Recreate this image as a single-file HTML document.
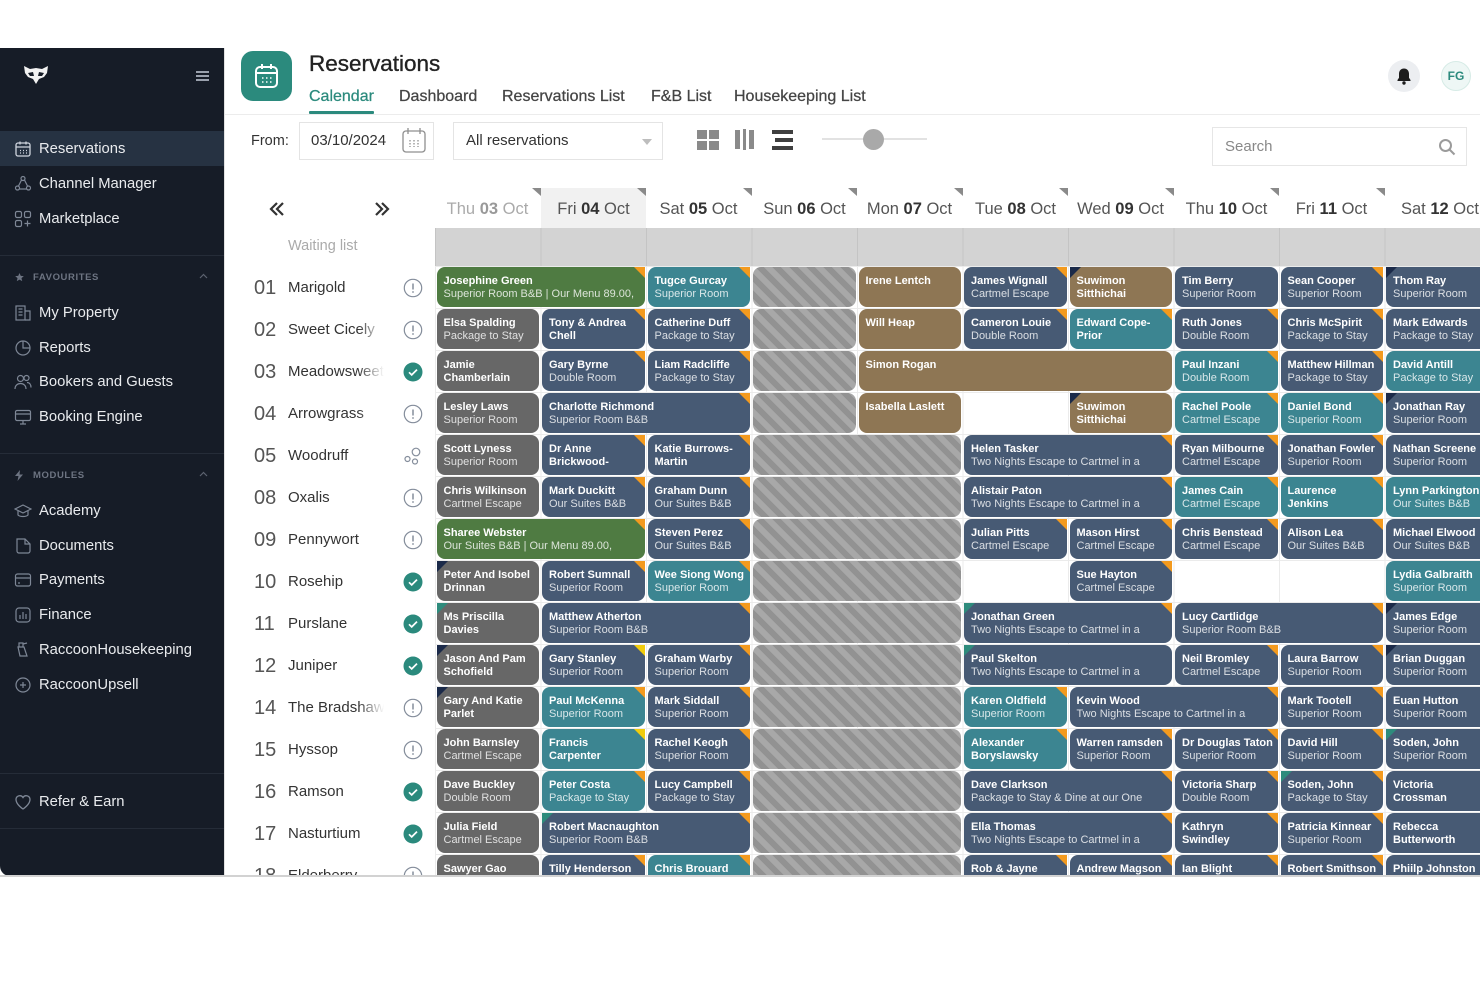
<!DOCTYPE html>
<html><head><meta charset="utf-8">
<style>
*{box-sizing:border-box}
body{margin:0;width:1480px;height:987px;position:relative;overflow:hidden;background:#fff;font-family:"Liberation Sans",sans-serif;}
.a{position:absolute}
#side{position:absolute;left:0;top:48px;width:224px;height:828px;background:#161c27;border-bottom-left-radius:10px;overflow:hidden}
.si{position:absolute;left:39px;font-size:14.8px;color:#e9ebee;line-height:20px;white-space:nowrap}
.ic{position:absolute;left:14px;width:18px;height:18px}
.sep{position:absolute;left:0;width:224px;height:1px;background:#252c38}
.lab{position:absolute;left:33px;font-size:9.5px;font-weight:bold;color:#6d7482;letter-spacing:.6px;line-height:12px}
.tab{position:absolute;top:87px;font-size:16px;line-height:20px;color:#444;-webkit-text-stroke:.25px #444;white-space:nowrap}
.dh{position:absolute;top:199px;font-size:16.5px;line-height:20px;color:#555;white-space:nowrap;text-align:center;width:105px}
.dh b{color:#333}
.tri{position:absolute;top:188px;width:0;height:0;border-style:solid;border-width:0 9px 8px 0;border-color:transparent #8a8a8a transparent transparent}
#grid{position:absolute;left:435px;top:266px;width:1055px;height:609px;overflow:hidden;display:grid;grid-template-columns:repeat(10,105.5px);grid-template-rows:repeat(15,42px);
background:repeating-linear-gradient(to bottom,#ebebeb 0 1px,transparent 1px 42px),repeating-linear-gradient(to right,#ebebeb 0 1px,transparent 1px 105.5px)}
.b{position:relative;margin:1px 1.5px;border-radius:8px;padding:7.5px 4px 0 7px;color:#fff;font-size:11px;line-height:13.5px;white-space:nowrap}
.b b{display:block;font-weight:bold}
.b i{display:block;font-style:normal;color:rgba(255,255,255,.8)}
.g{background:#4f7b42}.t{background:#3c8591}.n{background:#475a74}.y{background:#676767}.r{background:#8e7654}
.s{background:repeating-linear-gradient(45deg,#a8a8a8 0 6px,#929292 6px 12px)}
.o::after,.yy::after{content:"";position:absolute;top:0;right:0;width:0;height:0;border-style:solid;border-width:0 11px 11px 0;border-color:transparent #f39a1e transparent transparent}
.yy::after{border-color:transparent #f1cc0c transparent transparent}
.ln::before,.lt::before{content:"";position:absolute;top:0;left:0;width:0;height:0;border-style:solid;border-width:11px 11px 0 0;border-color:#1b2a49 transparent transparent transparent}
.lt::before{border-color:#2e8b7c transparent transparent transparent}
#rooms{position:absolute;left:225px;top:228px;width:210px;height:647px;overflow:hidden}
.rn{position:absolute;left:29px;font-size:20px;color:#555;line-height:24px}
.rm{position:absolute;left:63px;font-size:15px;color:#333;line-height:20px;width:96px;overflow:hidden;white-space:nowrap;-webkit-mask-image:linear-gradient(to right,#000 70px,transparent 96px);mask-image:linear-gradient(to right,#000 70px,transparent 96px)}
.st{position:absolute;left:178px;width:20px;height:20px}
</style></head><body>

<!-- SIDEBAR -->
<div id="side">
  <svg class="a" style="left:23px;top:17px" width="26" height="20" viewBox="0 0 26 20">
    <path d="M1 1 L7 4 L13 3 L19 4 L25 1 L24 8 L21 12 L16 14 L13 19 L10 14 L5 12 L2 8 Z" fill="#f2f2f2"/>
    <path d="M5 8 L10 7 L11 11 L7 11 Z M21 8 L16 7 L15 11 L19 11 Z" fill="#161c27"/>
  </svg>
  <svg class="a" style="left:196px;top:23px" width="14" height="10"><rect y="0" width="13" height="2" fill="#9aa1ad"/><rect y="4" width="13" height="2" fill="#9aa1ad"/><rect y="8" width="13" height="2" fill="#9aa1ad"/></svg>

  <div class="a" style="left:0;top:83px;width:224px;height:35px;background:#263242"></div>
  <svg class="ic" style="top:92px" viewBox="0 0 18 18" fill="none" stroke="#cfd5de" stroke-width="1.3"><rect x="2" y="3" width="14" height="13" rx="2"/><path d="M2 7h14M6 1.5v3M12 1.5v3"/><path d="M6 10.5h1M9 10.5h1M12 10.5h1M6 13h1M9 13h1M12 13h1"/></svg>
  <div class="si" style="top:91px">Reservations</div>
  <svg class="ic" style="top:127px" viewBox="0 0 18 18" fill="none" stroke="#7e8796" stroke-width="1.2"><circle cx="9" cy="3.5" r="2"/><circle cx="3.5" cy="13" r="2"/><circle cx="14.5" cy="13" r="2"/><path d="M7.5 5L4.5 11M10.5 5l3 6M5.5 14h7"/></svg>
  <div class="si" style="top:126px">Channel Manager</div>
  <svg class="ic" style="top:162px" viewBox="0 0 18 18" fill="none" stroke="#7e8796" stroke-width="1.2"><rect x="1.5" y="1.5" width="6" height="6" rx="1.5"/><rect x="10.5" y="1.5" width="6" height="6" rx="1.5"/><rect x="1.5" y="10.5" width="6" height="6" rx="1.5"/><path d="M13.5 10.5v6M10.5 13.5h6"/></svg>
  <div class="si" style="top:161px">Marketplace</div>
  <div class="sep" style="top:207px"></div>

  <svg class="a" style="left:15px;top:225px" width="9" height="9" viewBox="0 0 10 10"><path d="M5 0l1.4 3.2 3.4.3-2.6 2.2.8 3.3L5 7.3 2 9l.8-3.3L.2 3.5l3.4-.3z" fill="#6d7482"/></svg>
  <div class="lab" style="top:224px">FAVOURITES</div>
  <svg class="a" style="left:199px;top:225px" width="9" height="6"><path d="M1 5l3.5-3.5L8 5" stroke="#5c6370" fill="none" stroke-width="1.2"/></svg>

  <svg class="ic" style="top:256px" viewBox="0 0 18 18" fill="none" stroke="#7e8796" stroke-width="1.2"><rect x="2" y="2" width="9" height="14"/><path d="M11 7h5v9h-5M4.5 5h4M4.5 8h4M4.5 11h4"/></svg>
  <div class="si" style="top:255px">My Property</div>
  <svg class="ic" style="top:291px" viewBox="0 0 18 18" fill="none" stroke="#7e8796" stroke-width="1.2"><circle cx="9" cy="9" r="7"/><path d="M9 2v7h7"/></svg>
  <div class="si" style="top:290px">Reports</div>
  <svg class="ic" style="top:325px" viewBox="0 0 18 18" fill="none" stroke="#7e8796" stroke-width="1.2"><circle cx="6.5" cy="5.5" r="3"/><path d="M1 16c0-3.5 2.5-5.5 5.5-5.5S12 12.5 12 16"/><circle cx="12.5" cy="5" r="2.5"/><path d="M13 9.5c2.5 0 4 2 4 5"/></svg>
  <div class="si" style="top:324px">Bookers and Guests</div>
  <svg class="ic" style="top:360px" viewBox="0 0 18 18" fill="none" stroke="#7e8796" stroke-width="1.2"><rect x="1.5" y="2.5" width="15" height="10" rx="1.5"/><path d="M1.5 6h15M6 16h6M9 12.5V16"/></svg>
  <div class="si" style="top:359px">Booking Engine</div>
  <div class="sep" style="top:405px"></div>

  <svg class="a" style="left:15px;top:422px" width="8" height="11" viewBox="0 0 8 11"><path d="M5 0L0 6h3.5L2.5 11 8 4.5H4.5z" fill="#6d7482"/></svg>
  <div class="lab" style="top:422px">MODULES</div>
  <svg class="a" style="left:199px;top:423px" width="9" height="6"><path d="M1 5l3.5-3.5L8 5" stroke="#5c6370" fill="none" stroke-width="1.2"/></svg>

  <svg class="ic" style="top:454px" viewBox="0 0 18 18" fill="none" stroke="#7e8796" stroke-width="1.2"><path d="M1 7l8-4 8 4-8 4z"/><path d="M4 9v4c2 2 8 2 10 0V9"/></svg>
  <div class="si" style="top:453px">Academy</div>
  <svg class="ic" style="top:489px" viewBox="0 0 18 18" fill="none" stroke="#7e8796" stroke-width="1.2"><path d="M3 2h8l5 5v7a2 2 0 0 1-2 2H5a2 2 0 0 1-2-2z"/><path d="M11 2v5h5"/></svg>
  <div class="si" style="top:488px">Documents</div>
  <svg class="ic" style="top:523px" viewBox="0 0 18 18" fill="none" stroke="#7e8796" stroke-width="1.2"><rect x="1.5" y="3" width="15" height="12" rx="2"/><path d="M1.5 7h15M4 12h2"/></svg>
  <div class="si" style="top:522px">Payments</div>
  <svg class="ic" style="top:558px" viewBox="0 0 18 18" fill="none" stroke="#7e8796" stroke-width="1.2"><rect x="2" y="2" width="14" height="14" rx="3"/><path d="M6 13V9M9 13V6M12 13V8"/></svg>
  <div class="si" style="top:557px">Finance</div>
  <svg class="ic" style="top:593px" viewBox="0 0 18 18" fill="none" stroke="#7e8796" stroke-width="1.2"><path d="M5 2h4v4H5zM4 6h6l3 9H6z"/><path d="M9 3l4-1"/></svg>
  <div class="si" style="top:592px">RaccoonHousekeeping</div>
  <svg class="ic" style="top:628px" viewBox="0 0 18 18" fill="none" stroke="#7e8796" stroke-width="1.2"><circle cx="9" cy="9" r="7"/><path d="M9 6v6M6 9h6"/></svg>
  <div class="si" style="top:627px">RaccoonUpsell</div>
  <div class="sep" style="top:725px"></div>
  <svg class="ic" style="top:745px" viewBox="0 0 18 18" fill="none" stroke="#7e8796" stroke-width="1.3"><path d="M9 16S2 11.5 2 6.5A3.8 3.8 0 0 1 9 4.5a3.8 3.8 0 0 1 7 2C16 11.5 9 16 9 16z"/></svg>
  <div class="si" style="top:744px">Refer &amp; Earn</div>
  <div class="sep" style="top:780px"></div>
</div>
<div class="a" style="left:224px;top:48px;width:1px;height:828px;background:#e2e2e2"></div>
<div class="a" style="left:0;top:875px;width:1480px;height:2px;background:#d2d2d2"></div>

<!-- HEADER -->
<div class="a" style="left:241px;top:51px;width:51px;height:50px;border-radius:12px;background:#2b8a7d"></div>
<svg class="a" style="left:253px;top:62px" width="27" height="28" viewBox="0 0 27 28" fill="none" stroke="#fff" stroke-width="2"><rect x="3" y="5" width="21" height="20" rx="4"/><path d="M3 11h21M9 2v5M18 2v5"/><path d="M9 16h1.5M13 16h1.5M17 16h1.5M9 20h1.5M13 20h1.5M17 20h1.5" stroke-width="1.6"/></svg>
<div class="a" style="left:309px;top:51px;font-size:22.5px;line-height:26px;color:#222;-webkit-text-stroke:.35px #222">Reservations</div>
<div class="tab" style="left:309px;color:#2b8a7d;-webkit-text-stroke:.25px #2b8a7d">Calendar</div>
<div class="tab" style="left:399px">Dashboard</div>
<div class="tab" style="left:502px">Reservations List</div>
<div class="tab" style="left:651px">F&amp;B List</div>
<div class="tab" style="left:734px">Housekeeping List</div>
<div class="a" style="left:225px;top:114px;width:1255px;height:1px;background:#ececec"></div>
<div class="a" style="left:309px;top:111px;width:65px;height:3px;background:#2b8a7d;border-radius:1px"></div>

<div class="a" style="left:1388px;top:60px;width:32px;height:32px;border-radius:50%;background:#eceef1"></div>
<svg class="a" style="left:1396px;top:67px" width="16" height="18" viewBox="0 0 16 18"><path d="M8 1.5c-3 0-5 2.3-5 5.3v4L1.5 13v1h13v-1L13 10.8v-4c0-3-2-5.3-5-5.3z" fill="#1d1d1d"/><circle cx="8" cy="16" r="1.7" fill="#1d1d1d"/></svg>
<div class="a" style="left:1441px;top:61px;width:30px;height:30px;border-radius:50%;background:#eef7f5;border:1px solid #d6ebe6;color:#2b8a7d;font-size:12px;font-weight:bold;line-height:28px;text-align:center">FG</div>

<!-- TOOLBAR -->
<div class="a" style="left:251px;top:132px;font-size:14.5px;color:#333;line-height:18px">From:</div>
<div class="a" style="left:299px;top:122px;width:135px;height:38px;border:1px solid #e4e4e4"></div>
<div class="a" style="left:311px;top:132px;font-size:15px;color:#333;line-height:18px">03/10/2024</div>
<svg class="a" style="left:401px;top:127px" width="26" height="27" viewBox="0 0 26 27" fill="none" stroke="#8f8f8f" stroke-width="1.3"><rect x="2" y="4" width="22" height="21" rx="3"/><path d="M7 1v6M19 1v6"/><path d="M9 13v7M13 13v7M17 13v7" stroke-dasharray="1.5 1.5"/></svg>
<div class="a" style="left:453px;top:122px;width:210px;height:38px;border:1px solid #e4e4e4"></div>
<div class="a" style="left:466px;top:132px;font-size:15px;color:#333;line-height:18px">All reservations</div>
<svg class="a" style="left:642px;top:139px" width="10" height="6"><path d="M0 0h10L5 6z" fill="#bdbdbd"/></svg>
<svg class="a" style="left:697px;top:130px" width="22" height="20"><rect x="0" y="0" width="10" height="9" fill="#8a8a8a"/><rect x="12" y="0" width="10" height="9" fill="#8a8a8a"/><rect x="0" y="11" width="10" height="9" fill="#8a8a8a"/><rect x="12" y="11" width="10" height="9" fill="#8a8a8a"/></svg>
<svg class="a" style="left:735px;top:129px" width="21" height="21"><rect x="0" y="1" width="5" height="19" fill="#8a8a8a"/><rect x="8" y="0" width="3" height="21" fill="#8a8a8a"/><rect x="14" y="1" width="5" height="19" fill="#8a8a8a"/></svg>
<svg class="a" style="left:772px;top:130px" width="22" height="20"><rect x="0" y="0" width="21" height="4" fill="#3f3f3f"/><rect x="3" y="8" width="18" height="4" fill="#3f3f3f"/><rect x="0" y="16" width="21" height="4" fill="#3f3f3f"/></svg>
<div class="a" style="left:822px;top:138px;width:105px;height:2px;background:#e2e2e2"></div>
<div class="a" style="left:863px;top:129px;width:21px;height:21px;border-radius:50%;background:#a9a9a9"></div>
<div class="a" style="left:1212px;top:127px;width:255px;height:39px;border:1px solid #e6e6e6"></div>
<div class="a" style="left:1225px;top:138px;font-size:15px;color:#888;line-height:18px">Search</div>
<svg class="a" style="left:1438px;top:138px" width="18" height="18" fill="none" stroke="#9b9b9b" stroke-width="2"><circle cx="7.5" cy="7.5" r="5.5"/><path d="M11.5 11.5l5 5"/></svg>

<!-- DATE HEADER -->
<svg class="a" style="left:269px;top:201px" width="16" height="16" fill="none" stroke="#333" stroke-width="2.2"><path d="M8 2L2 8l6 6M14 2L8 8l6 6"/></svg>
<svg class="a" style="left:374px;top:201px" width="16" height="16" fill="none" stroke="#333" stroke-width="2.2"><path d="M2 2l6 6-6 6M8 2l6 6-6 6"/></svg>
<div class="a" style="left:541px;top:188px;width:105px;height:40px;background:#f1f1f1"></div>
<div class="dh" style="left:435px;color:#aaa">Thu <b style="color:#999">03</b> Oct</div>
<div class="dh" style="left:541px">Fri <b>04</b> Oct</div>
<div class="dh" style="left:646px">Sat <b>05</b> Oct</div>
<div class="dh" style="left:752px">Sun <b>06</b> Oct</div>
<div class="dh" style="left:857px">Mon <b>07</b> Oct</div>
<div class="dh" style="left:963px">Tue <b>08</b> Oct</div>
<div class="dh" style="left:1068px">Wed <b>09</b> Oct</div>
<div class="dh" style="left:1174px">Thu <b>10</b> Oct</div>
<div class="dh" style="left:1279px">Fri <b>11</b> Oct</div>
<div class="dh" style="left:1385px;text-align:left;padding-left:16px">Sat <b>12</b> Oct</div>
<div class="tri" style="left:532px"></div>
<div class="tri" style="left:637px"></div>
<div class="tri" style="left:743px"></div>
<div class="tri" style="left:848px"></div>
<div class="tri" style="left:954px"></div>
<div class="tri" style="left:1059px"></div>
<div class="tri" style="left:1165px"></div>
<div class="tri" style="left:1270px"></div>
<div class="tri" style="left:1376px"></div>

<!-- band -->
<div class="a" style="left:435px;top:228px;width:1055px;height:38px;background:repeating-linear-gradient(to right,#c4c4c4 0 1px,#d3d3d3 1px 105.5px)"></div>

<!-- ROOMS -->
<div id="rooms">
  <div class="a" style="left:63px;top:9px;font-size:14.5px;color:#aaa;line-height:18px">Waiting list</div>

  <div class="rn" style="top:48px">01</div><div class="rm" style="top:50px">Marigold</div>
  <div class="rn" style="top:90px">02</div><div class="rm" style="top:92px">Sweet Cicely</div>
  <div class="rn" style="top:132px">03</div><div class="rm" style="top:134px">Meadowsweet</div>
  <div class="rn" style="top:174px">04</div><div class="rm" style="top:176px">Arrowgrass</div>
  <div class="rn" style="top:216px">05</div><div class="rm" style="top:218px">Woodruff</div>
  <div class="rn" style="top:258px">08</div><div class="rm" style="top:260px">Oxalis</div>
  <div class="rn" style="top:300px">09</div><div class="rm" style="top:302px">Pennywort</div>
  <div class="rn" style="top:342px">10</div><div class="rm" style="top:344px">Rosehip</div>
  <div class="rn" style="top:384px">11</div><div class="rm" style="top:386px">Purslane</div>
  <div class="rn" style="top:426px">12</div><div class="rm" style="top:428px">Juniper</div>
  <div class="rn" style="top:468px">14</div><div class="rm" style="top:470px">The Bradshaw</div>
  <div class="rn" style="top:510px">15</div><div class="rm" style="top:512px">Hyssop</div>
  <div class="rn" style="top:552px">16</div><div class="rm" style="top:554px">Ramson</div>
  <div class="rn" style="top:594px">17</div><div class="rm" style="top:596px">Nasturtium</div>
  <div class="rn" style="top:636px">18</div><div class="rm" style="top:638px">Elderberry</div>

  <svg class="st" style="top:50px" viewBox="0 0 20 20"><circle cx="10" cy="10" r="8.7" fill="none" stroke="#848d9b" stroke-width="1.2"/><path d="M10 5.5v6" stroke="#848d9b" stroke-width="1.5"/><circle cx="10" cy="14" r=".9" fill="#848d9b"/></svg>
  <svg class="st" style="top:92px" viewBox="0 0 20 20"><circle cx="10" cy="10" r="8.7" fill="none" stroke="#848d9b" stroke-width="1.2"/><path d="M10 5.5v6" stroke="#848d9b" stroke-width="1.5"/><circle cx="10" cy="14" r=".9" fill="#848d9b"/></svg>
  <svg class="st" style="top:134px" viewBox="0 0 20 20"><circle cx="10" cy="10" r="9.5" fill="#2b8a7d"/><path d="M6 10.3l2.7 2.6L14 7.6" stroke="#fff" stroke-width="1.7" fill="none"/></svg>
  <svg class="st" style="top:176px" viewBox="0 0 20 20"><circle cx="10" cy="10" r="8.7" fill="none" stroke="#848d9b" stroke-width="1.2"/><path d="M10 5.5v6" stroke="#848d9b" stroke-width="1.5"/><circle cx="10" cy="14" r=".9" fill="#848d9b"/></svg>
  <svg class="st" style="top:218px" viewBox="0 0 20 20" fill="none" stroke="#848d9b" stroke-width="1.2"><circle cx="13" cy="6" r="3.8"/><circle cx="4.5" cy="13" r="2.5"/><circle cx="12" cy="15.5" r="2.5"/></svg>
  <svg class="st" style="top:260px" viewBox="0 0 20 20"><circle cx="10" cy="10" r="8.7" fill="none" stroke="#848d9b" stroke-width="1.2"/><path d="M10 5.5v6" stroke="#848d9b" stroke-width="1.5"/><circle cx="10" cy="14" r=".9" fill="#848d9b"/></svg>
  <svg class="st" style="top:302px" viewBox="0 0 20 20"><circle cx="10" cy="10" r="8.7" fill="none" stroke="#848d9b" stroke-width="1.2"/><path d="M10 5.5v6" stroke="#848d9b" stroke-width="1.5"/><circle cx="10" cy="14" r=".9" fill="#848d9b"/></svg>
  <svg class="st" style="top:344px" viewBox="0 0 20 20"><circle cx="10" cy="10" r="9.5" fill="#2b8a7d"/><path d="M6 10.3l2.7 2.6L14 7.6" stroke="#fff" stroke-width="1.7" fill="none"/></svg>
  <svg class="st" style="top:386px" viewBox="0 0 20 20"><circle cx="10" cy="10" r="9.5" fill="#2b8a7d"/><path d="M6 10.3l2.7 2.6L14 7.6" stroke="#fff" stroke-width="1.7" fill="none"/></svg>
  <svg class="st" style="top:428px" viewBox="0 0 20 20"><circle cx="10" cy="10" r="9.5" fill="#2b8a7d"/><path d="M6 10.3l2.7 2.6L14 7.6" stroke="#fff" stroke-width="1.7" fill="none"/></svg>
  <svg class="st" style="top:470px" viewBox="0 0 20 20"><circle cx="10" cy="10" r="8.7" fill="none" stroke="#848d9b" stroke-width="1.2"/><path d="M10 5.5v6" stroke="#848d9b" stroke-width="1.5"/><circle cx="10" cy="14" r=".9" fill="#848d9b"/></svg>
  <svg class="st" style="top:512px" viewBox="0 0 20 20"><circle cx="10" cy="10" r="8.7" fill="none" stroke="#848d9b" stroke-width="1.2"/><path d="M10 5.5v6" stroke="#848d9b" stroke-width="1.5"/><circle cx="10" cy="14" r=".9" fill="#848d9b"/></svg>
  <svg class="st" style="top:554px" viewBox="0 0 20 20"><circle cx="10" cy="10" r="9.5" fill="#2b8a7d"/><path d="M6 10.3l2.7 2.6L14 7.6" stroke="#fff" stroke-width="1.7" fill="none"/></svg>
  <svg class="st" style="top:596px" viewBox="0 0 20 20"><circle cx="10" cy="10" r="9.5" fill="#2b8a7d"/><path d="M6 10.3l2.7 2.6L14 7.6" stroke="#fff" stroke-width="1.7" fill="none"/></svg>
  <svg class="st" style="top:638px" viewBox="0 0 20 20"><circle cx="10" cy="10" r="8.7" fill="none" stroke="#848d9b" stroke-width="1.2"/><path d="M10 5.5v6" stroke="#848d9b" stroke-width="1.5"/><circle cx="10" cy="14" r=".9" fill="#848d9b"/></svg>
</div>

<!-- GRID -->
<div id="grid">
<div class="b g o" style="grid-area:1/1/2/3"><b>Josephine Green</b><i>Superior Room B&amp;B | Our Menu 89.00,</i></div>
<div class="b t o" style="grid-area:1/3/2/4"><b>Tugce Gurcay</b><i>Superior Room</i></div>
<div class="b s" style="grid-area:1/4/2/5"></div>
<div class="b r" style="grid-area:1/5/2/6"><b>Irene Lentch</b></div>
<div class="b n o" style="grid-area:1/6/2/7"><b>James Wignall</b><i>Cartmel Escape</i></div>
<div class="b r ln" style="grid-area:1/7/2/8"><b>Suwimon<br>Sitthichai</b></div>
<div class="b n" style="grid-area:1/8/2/9"><b>Tim Berry</b><i>Superior Room</i></div>
<div class="b n o" style="grid-area:1/9/2/10"><b>Sean Cooper</b><i>Superior Room</i></div>
<div class="b n ln" style="grid-area:1/10/2/11"><b>Thom Ray</b><i>Superior Room</i></div>

<div class="b y" style="grid-area:2/1/3/2"><b>Elsa Spalding</b><i>Package to Stay</i></div>
<div class="b n o" style="grid-area:2/2/3/3"><b>Tony &amp; Andrea<br>Chell</b></div>
<div class="b n o" style="grid-area:2/3/3/4"><b>Catherine Duff</b><i>Package to Stay</i></div>
<div class="b s" style="grid-area:2/4/3/5"></div>
<div class="b r" style="grid-area:2/5/3/6"><b>Will Heap</b></div>
<div class="b n o" style="grid-area:2/6/3/7"><b>Cameron Louie</b><i>Double Room</i></div>
<div class="b t o" style="grid-area:2/7/3/8"><b>Edward Cope-<br>Prior</b></div>
<div class="b n o" style="grid-area:2/8/3/9"><b>Ruth Jones</b><i>Double Room</i></div>
<div class="b n o" style="grid-area:2/9/3/10"><b>Chris McSpirit</b><i>Package to Stay</i></div>
<div class="b n" style="grid-area:2/10/3/11"><b>Mark Edwards</b><i>Package to Stay</i></div>

<div class="b y" style="grid-area:3/1/4/2"><b>Jamie<br>Chamberlain</b></div>
<div class="b n o" style="grid-area:3/2/4/3"><b>Gary Byrne</b><i>Double Room</i></div>
<div class="b n o" style="grid-area:3/3/4/4"><b>Liam Radcliffe</b><i>Package to Stay</i></div>
<div class="b s" style="grid-area:3/4/4/5"></div>
<div class="b r" style="grid-area:3/5/4/8"><b>Simon Rogan</b></div>
<div class="b t o" style="grid-area:3/8/4/9"><b>Paul Inzani</b><i>Double Room</i></div>
<div class="b n o" style="grid-area:3/9/4/10"><b>Matthew Hillman</b><i>Package to Stay</i></div>
<div class="b t" style="grid-area:3/10/4/11"><b>David Antill</b><i>Package to Stay</i></div>

<div class="b y" style="grid-area:4/1/5/2"><b>Lesley Laws</b><i>Superior Room</i></div>
<div class="b n o" style="grid-area:4/2/5/4"><b>Charlotte Richmond</b><i>Superior Room B&amp;B</i></div>
<div class="b s" style="grid-area:4/4/5/5"></div>
<div class="b r" style="grid-area:4/5/5/6"><b>Isabella Laslett</b></div>
<div class="b r ln" style="grid-area:4/7/5/8"><b>Suwimon<br>Sitthichai</b></div>
<div class="b t o" style="grid-area:4/8/5/9"><b>Rachel Poole</b><i>Cartmel Escape</i></div>
<div class="b t o" style="grid-area:4/9/5/10"><b>Daniel Bond</b><i>Superior Room</i></div>
<div class="b n ln" style="grid-area:4/10/5/11"><b>Jonathan Ray</b><i>Superior Room</i></div>

<div class="b y" style="grid-area:5/1/6/2"><b>Scott Lyness</b><i>Superior Room</i></div>
<div class="b n o" style="grid-area:5/2/6/3"><b>Dr Anne<br>Brickwood-</b></div>
<div class="b n o" style="grid-area:5/3/6/4"><b>Katie Burrows-<br>Martin</b></div>
<div class="b s" style="grid-area:5/4/6/6"></div>
<div class="b n o" style="grid-area:5/6/6/8"><b>Helen Tasker</b><i>Two Nights Escape to Cartmel in a</i></div>
<div class="b n o" style="grid-area:5/8/6/9"><b>Ryan Milbourne</b><i>Cartmel Escape</i></div>
<div class="b n o" style="grid-area:5/9/6/10"><b>Jonathan Fowler</b><i>Superior Room</i></div>
<div class="b n" style="grid-area:5/10/6/11"><b>Nathan Screene</b><i>Superior Room</i></div>

<div class="b y" style="grid-area:6/1/7/2"><b>Chris Wilkinson</b><i>Cartmel Escape</i></div>
<div class="b n o" style="grid-area:6/2/7/3"><b>Mark Duckitt</b><i>Our Suites B&amp;B</i></div>
<div class="b n o" style="grid-area:6/3/7/4"><b>Graham Dunn</b><i>Our Suites B&amp;B</i></div>
<div class="b s" style="grid-area:6/4/7/6"></div>
<div class="b n o" style="grid-area:6/6/7/8"><b>Alistair Paton</b><i>Two Nights Escape to Cartmel in a</i></div>
<div class="b t o" style="grid-area:6/8/7/9"><b>James Cain</b><i>Cartmel Escape</i></div>
<div class="b t o" style="grid-area:6/9/7/10"><b>Laurence<br>Jenkins</b></div>
<div class="b t" style="grid-area:6/10/7/11"><b>Lynn Parkington</b><i>Our Suites B&amp;B</i></div>

<div class="b g o" style="grid-area:7/1/8/3"><b>Sharee Webster</b><i>Our Suites B&amp;B | Our Menu 89.00,</i></div>
<div class="b n o" style="grid-area:7/3/8/4"><b>Steven Perez</b><i>Our Suites B&amp;B</i></div>
<div class="b s" style="grid-area:7/4/8/6"></div>
<div class="b n o" style="grid-area:7/6/8/7"><b>Julian Pitts</b><i>Cartmel Escape</i></div>
<div class="b n o" style="grid-area:7/7/8/8"><b>Mason Hirst</b><i>Cartmel Escape</i></div>
<div class="b n o" style="grid-area:7/8/8/9"><b>Chris Benstead</b><i>Cartmel Escape</i></div>
<div class="b n o" style="grid-area:7/9/8/10"><b>Alison Lea</b><i>Our Suites B&amp;B</i></div>
<div class="b n" style="grid-area:7/10/8/11"><b>Michael Elwood</b><i>Our Suites B&amp;B</i></div>

<div class="b y ln" style="grid-area:8/1/9/2"><b>Peter And Isobel<br>Drinnan</b></div>
<div class="b n o" style="grid-area:8/2/9/3"><b>Robert Sumnall</b><i>Superior Room</i></div>
<div class="b t o" style="grid-area:8/3/9/4"><b>Wee Siong Wong</b><i>Superior Room</i></div>
<div class="b s" style="grid-area:8/4/9/6"></div>
<div class="b n o" style="grid-area:8/7/9/8"><b>Sue Hayton</b><i>Cartmel Escape</i></div>
<div class="b t" style="grid-area:8/10/9/11"><b>Lydia Galbraith</b><i>Superior Room</i></div>

<div class="b y lt" style="grid-area:9/1/10/2"><b>Ms Priscilla<br>Davies</b></div>
<div class="b n o" style="grid-area:9/2/10/4"><b>Matthew Atherton</b><i>Superior Room B&amp;B</i></div>
<div class="b s" style="grid-area:9/4/10/6"></div>
<div class="b n lt o" style="grid-area:9/6/10/8"><b>Jonathan Green</b><i>Two Nights Escape to Cartmel in a</i></div>
<div class="b n o" style="grid-area:9/8/10/10"><b>Lucy Cartlidge</b><i>Superior Room B&amp;B</i></div>
<div class="b n ln" style="grid-area:9/10/10/11"><b>James Edge</b><i>Superior Room</i></div>

<div class="b y ln" style="grid-area:10/1/11/2"><b>Jason And Pam<br>Schofield</b></div>
<div class="b n yy" style="grid-area:10/2/11/3"><b>Gary Stanley</b><i>Superior Room</i></div>
<div class="b n o" style="grid-area:10/3/11/4"><b>Graham Warby</b><i>Superior Room</i></div>
<div class="b s" style="grid-area:10/4/11/6"></div>
<div class="b n lt" style="grid-area:10/6/11/8"><b>Paul Skelton</b><i>Two Nights Escape to Cartmel in a</i></div>
<div class="b n o" style="grid-area:10/8/11/9"><b>Neil Bromley</b><i>Cartmel Escape</i></div>
<div class="b n o" style="grid-area:10/9/11/10"><b>Laura Barrow</b><i>Superior Room</i></div>
<div class="b n ln" style="grid-area:10/10/11/11"><b>Brian Duggan</b><i>Superior Room</i></div>

<div class="b y ln" style="grid-area:11/1/12/2"><b>Gary And Katie<br>Parlet</b></div>
<div class="b t o" style="grid-area:11/2/12/3"><b>Paul McKenna</b><i>Superior Room</i></div>
<div class="b n o" style="grid-area:11/3/12/4"><b>Mark Siddall</b><i>Superior Room</i></div>
<div class="b s" style="grid-area:11/4/12/6"></div>
<div class="b t o" style="grid-area:11/6/12/7"><b>Karen Oldfield</b><i>Superior Room</i></div>
<div class="b n o" style="grid-area:11/7/12/9"><b>Kevin Wood</b><i>Two Nights Escape to Cartmel in a</i></div>
<div class="b n o" style="grid-area:11/9/12/10"><b>Mark Tootell</b><i>Superior Room</i></div>
<div class="b n" style="grid-area:11/10/12/11"><b>Euan Hutton</b><i>Superior Room</i></div>

<div class="b y" style="grid-area:12/1/13/2"><b>John Barnsley</b><i>Cartmel Escape</i></div>
<div class="b t yy" style="grid-area:12/2/13/3"><b>Francis<br>Carpenter</b></div>
<div class="b n o" style="grid-area:12/3/13/4"><b>Rachel Keogh</b><i>Superior Room</i></div>
<div class="b s" style="grid-area:12/4/13/6"></div>
<div class="b t o" style="grid-area:12/6/13/7"><b>Alexander<br>Boryslawsky</b></div>
<div class="b n o" style="grid-area:12/7/13/8"><b>Warren ramsden</b><i>Superior Room</i></div>
<div class="b n o" style="grid-area:12/8/13/9"><b>Dr Douglas Taton</b><i>Superior Room</i></div>
<div class="b n o" style="grid-area:12/9/13/10"><b>David Hill</b><i>Superior Room</i></div>
<div class="b n lt" style="grid-area:12/10/13/11"><b>Soden, John</b><i>Superior Room</i></div>

<div class="b y" style="grid-area:13/1/14/2"><b>Dave Buckley</b><i>Double Room</i></div>
<div class="b t o" style="grid-area:13/2/14/3"><b>Peter Costa</b><i>Package to Stay</i></div>
<div class="b n o" style="grid-area:13/3/14/4"><b>Lucy Campbell</b><i>Package to Stay</i></div>
<div class="b s" style="grid-area:13/4/14/6"></div>
<div class="b n o" style="grid-area:13/6/14/8"><b>Dave Clarkson</b><i>Package to Stay &amp; Dine at our One</i></div>
<div class="b n o" style="grid-area:13/8/14/9"><b>Victoria Sharp</b><i>Double Room</i></div>
<div class="b n lt o" style="grid-area:13/9/14/10"><b>Soden, John</b><i>Package to Stay</i></div>
<div class="b n" style="grid-area:13/10/14/11"><b>Victoria<br>Crossman</b></div>

<div class="b y" style="grid-area:14/1/15/2"><b>Julia Field</b><i>Cartmel Escape</i></div>
<div class="b n lt o" style="grid-area:14/2/15/4"><b>Robert Macnaughton</b><i>Superior Room B&amp;B</i></div>
<div class="b s" style="grid-area:14/4/15/6"></div>
<div class="b n o" style="grid-area:14/6/15/8"><b>Ella Thomas</b><i>Two Nights Escape to Cartmel in a</i></div>
<div class="b n o" style="grid-area:14/8/15/9"><b>Kathryn<br>Swindley</b></div>
<div class="b n o" style="grid-area:14/9/15/10"><b>Patricia Kinnear</b><i>Superior Room</i></div>
<div class="b n" style="grid-area:14/10/15/11"><b>Rebecca<br>Butterworth</b></div>

<div class="b y" style="grid-area:15/1/16/2"><b>Sawyer Gao</b></div>
<div class="b n o" style="grid-area:15/2/16/3"><b>Tilly Henderson</b></div>
<div class="b t o" style="grid-area:15/3/16/4"><b>Chris Brouard</b></div>
<div class="b s" style="grid-area:15/4/16/6"></div>
<div class="b n o" style="grid-area:15/6/16/7"><b>Rob &amp; Jayne</b></div>
<div class="b n o" style="grid-area:15/7/16/8"><b>Andrew Magson</b></div>
<div class="b n o" style="grid-area:15/8/16/9"><b>Ian Blight</b></div>
<div class="b n o" style="grid-area:15/9/16/10"><b>Robert Smithson</b></div>
<div class="b n" style="grid-area:15/10/16/11"><b>Phiilp Johnston</b></div>
</div>

</body></html>
